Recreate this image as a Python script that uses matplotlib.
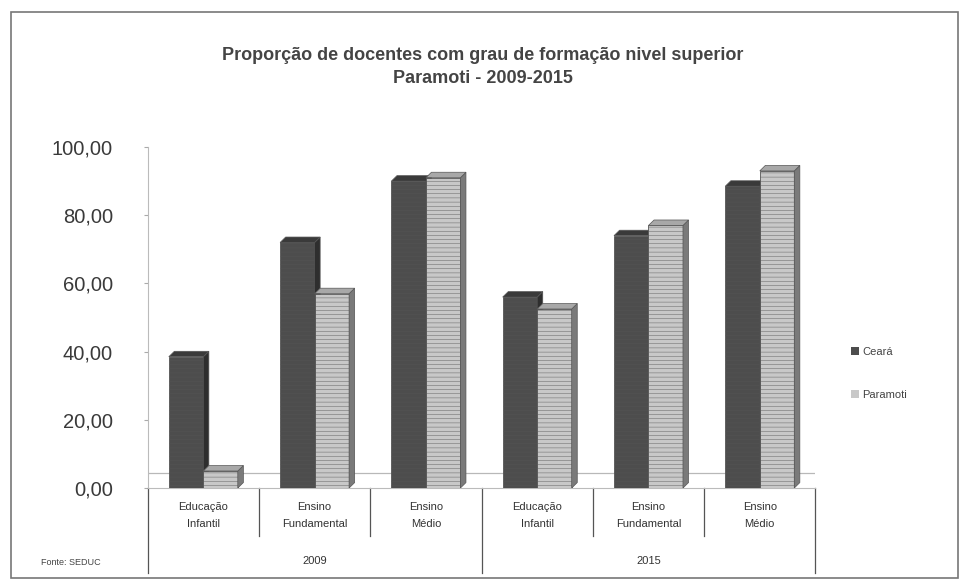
import matplotlib.pyplot as plt
from matplotlib.patches import Polygon, Rectangle
from matplotlib.transforms import blended_transform_factory
from matplotlib.lines import Line2D
import numpy as np

plt.rcParams['font.family'] = ['Liberation Sans', 'DejaVu Sans']

# data
categories = ['Educação\nInfantil', 'Ensino\nFundamental', 'Ensino\nMédio',
              'Educação\nInfantil', 'Ensino\nFundamental', 'Ensino\nMédio']
years = ['2009', '2015']
ceara = [38.5, 72.0, 90.0, 56.0, 74.0, 88.5]
paramoti = [5.0, 57.0, 91.0, 52.5, 77.0, 93.0]
yticks = [0, 20, 40, 60, 80, 100]

fig = plt.figure(figsize=(9.65, 5.88), dpi=100)
ax = fig.add_axes([0.153, 0.170, 0.692, 0.580])

x = np.arange(len(categories))
w = 0.31
dx, dy = 0.05, 1.6  # fake 3D depth

plt.rcParams['hatch.linewidth'] = 0.3


def bar3d(xs, vals, front, side, top, hatch_col):
    plt.rcParams['hatch.color'] = hatch_col
    bars = ax.bar(xs, vals, width=w, align='edge', color=front,
                  edgecolor='#555555', linewidth=0.6, hatch='----', zorder=3)
    for b in bars:
        x0, x1, h = b.get_x(), b.get_x() + b.get_width(), b.get_height()
        ax.add_patch(Polygon([(x1, 0), (x1 + dx, dy), (x1 + dx, h + dy), (x1, h)],
                             closed=True, facecolor=side, edgecolor='#555555',
                             linewidth=0.5, zorder=3))
        ax.add_patch(Polygon([(x0, h), (x0 + dx, h + dy), (x1 + dx, h + dy), (x1, h)],
                             closed=True, facecolor=top, edgecolor='#555555',
                             linewidth=0.5, zorder=3))
    return bars


ax.axhline(4.5, color='#b8b8b8', lw=0.9, zorder=1)
bar3d(x - w, ceara, '#4d4d4d', '#2e2e2e', '#3a3a3a', '#6e6e6e')
bar3d(x, paramoti, '#c8c8c8', '#7a7a7a', '#a8a8a8', '#b4b4b4')

ax.set_xlim(-0.5, 5.5)
ax.set_ylim(0, 100)
ax.set_yticks(yticks)
ax.set_yticklabels([f'{v:.2f}'.replace('.', ',') for v in yticks],
                   fontsize=14.5, color='#3a3a3a')
ax.tick_params(axis='y', length=3, color='#aaaaaa', pad=22)
ax.set_xticks([])
for s in ['top', 'right']:
    ax.spines[s].set_visible(False)
ax.spines['left'].set_color('#bbbbbb')
ax.spines['bottom'].set_color('#bbbbbb')

# two level category axis
tr = blended_transform_factory(ax.transData, ax.transAxes)
for i, c in enumerate(categories):
    ax.text(i, -0.08, c, transform=tr, ha='center', va='center',
            fontsize=8, color='#333333', linespacing=1.9)
for k, yr in enumerate(years):
    ax.text(1 + 3 * k, -0.215, yr, transform=tr, ha='center', va='center',
            fontsize=8, color='#333333')
for b in [0.5, 1.5, 3.5, 4.5]:
    ax.add_line(Line2D([b, b], [0, -0.14], transform=tr, color='#555555',
                       lw=0.9, clip_on=False))
for b in [-0.5, 2.5, 5.5]:
    ax.add_line(Line2D([b, b], [0, -0.25], transform=tr, color='#555555',
                       lw=0.9, clip_on=False))

fig.text(0.5, 0.905, 'Proporção de docentes com grau de formação nivel superior',
         ha='center', va='center', fontsize=13, fontweight='bold', color='#444444')
fig.text(0.5, 0.866, 'Paramoti - 2009-2015', ha='center', va='center',
         fontsize=13, fontweight='bold', color='#444444')

handles = [Rectangle((0, 0), 1, 1, facecolor='#4d4d4d'),
           Rectangle((0, 0), 1, 1, facecolor='#c8c8c8')]
fig.legend(handles, ['Ceará', 'Paramoti'], loc='center left',
           bbox_to_anchor=(0.872, 0.365), frameon=False, fontsize=8,
           handlelength=0.7, handleheight=0.7, handletextpad=0.3,
           labelspacing=3.0, labelcolor='#444444')

fig.text(0.042, 0.043, 'Fonte: SEDUC', fontsize=6.5, color='#444444',
         va='center')

fig.add_artist(Rectangle((0.011, 0.017), 0.982, 0.963, transform=fig.transFigure,
                         fill=False, edgecolor='#777777', lw=1.2))

fig.savefig('out.png', dpi=100, facecolor='white')
